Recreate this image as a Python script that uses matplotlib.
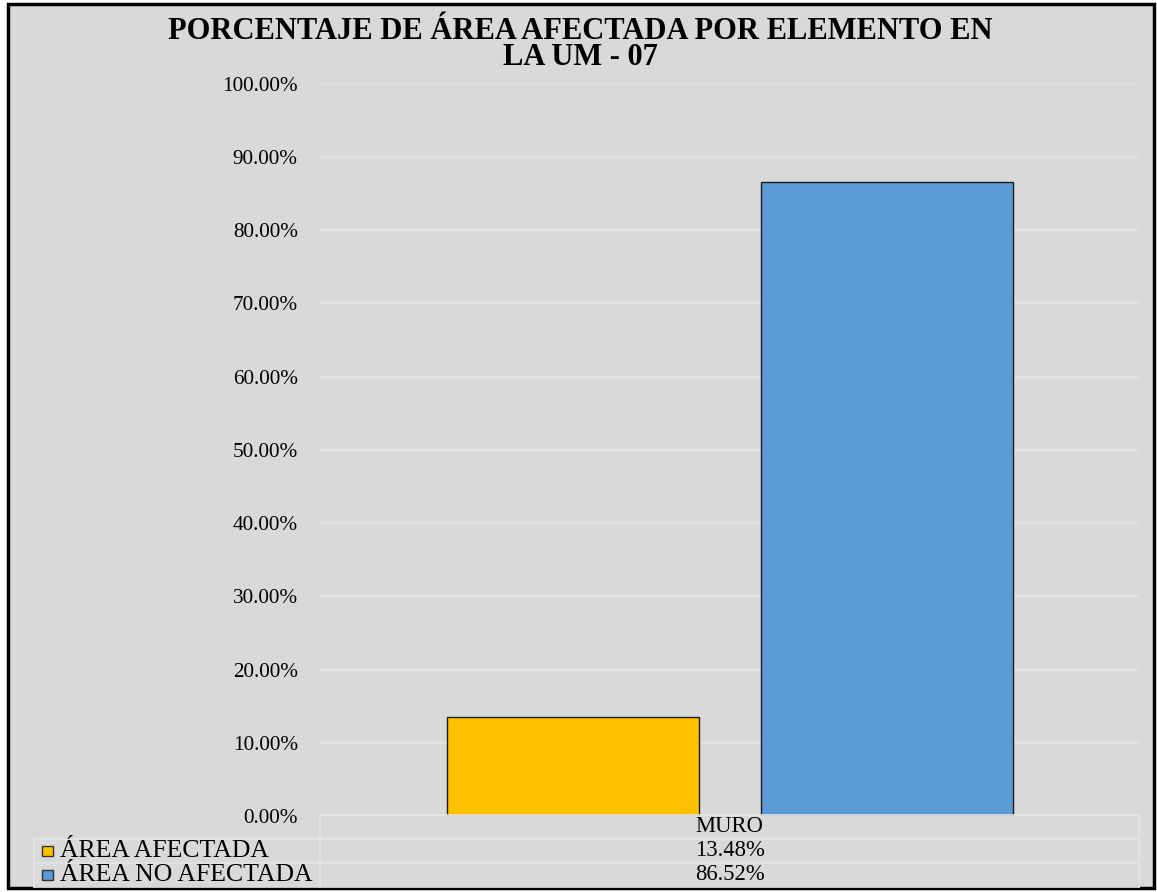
import matplotlib
matplotlib.use('Agg')
import matplotlib.pyplot as plt
from matplotlib.patches import Rectangle
from matplotlib.lines import Line2D
from matplotlib.ticker import FuncFormatter

# data
category = "MURO"
series_names = ["ÁREA AFECTADA", "ÁREA NO AFECTADA"]
series_values = [0.1348, 0.8652]
series_colors = ["#FFC000", "#5B9BD5"]
title = "PORCENTAJE DE ÁREA AFECTADA POR ELEMENTO EN\nLA UM - 07"

plt.rcParams['font.family'] = ['Liberation Serif', 'DejaVu Serif']

W, H = 1157, 892
fig = plt.figure(figsize=(W / 100, H / 100), dpi=100)
fig.patch.set_facecolor("white")

BG = "#D9D9D9"
GRID = "#E4E4E4"

# chart area with black border (behind the axes)
fig.patches.append(Rectangle((8 / W, 4 / H), (1154 - 8) / W, (888 - 4) / H,
                             transform=fig.transFigure, facecolor=BG,
                             edgecolor="black", linewidth=2.5, zorder=-5))

def fx(px):
    return px / W

def fy(py):
    return 1 - py / H

left, right, top, bottom = 320, 1139, 83.6, 816
ax = fig.add_axes([fx(left), fy(bottom), fx(right - left), fy(top) - fy(bottom)])
ax.patch.set_alpha(0)

width = 252 / 819
offset = (252 + 62) / 2 / 819
for i, (name, val, col) in enumerate(zip(series_names, series_values, series_colors)):
    x = (i - 0.5) * 2 * offset
    ax.bar(x, val, width=width, color=col, edgecolor="#1a1a1a", linewidth=1.0,
           label=name, zorder=3)

ax.set_xlim(-0.5, 0.5)
ax.set_ylim(0, 1)
ax.set_yticks([i / 10 for i in range(11)])
ax.yaxis.set_major_formatter(FuncFormatter(lambda v, p: f"{v * 100:.2f}%"))
ax.tick_params(axis='y', length=0, pad=16, labelsize=15.3)
ax.set_xticks([])
ax.grid(axis='y', color=GRID, linewidth=1.2, zorder=0)
for s in ax.spines.values():
    s.set_visible(False)

# title
fig.text(fx(580), fy(44.5), title, ha="center", va="center", fontsize=22,
         fontweight="bold", linespacing=0.82)

# data table below the plot
rows_y = [815, 839, 863, 887]
tab_left = 34
lc = GRID
lw = 1.2
fig.add_artist(Line2D([fx(left), fx(right)], [fy(rows_y[0])] * 2, color=lc, lw=lw))
for yy in rows_y[1:]:
    fig.add_artist(Line2D([fx(tab_left), fx(right)], [fy(yy)] * 2, color=lc, lw=lw))
fig.add_artist(Line2D([fx(left)] * 2, [fy(rows_y[0]), fy(rows_y[-1])], color=lc, lw=lw))
fig.add_artist(Line2D([fx(right)] * 2, [fy(rows_y[0]), fy(rows_y[-1])], color=lc, lw=lw))
fig.add_artist(Line2D([fx(tab_left)] * 2, [fy(rows_y[1]), fy(rows_y[-1])], color=lc, lw=lw))

cx = (left + right) / 2
fig.text(fx(cx), fy((rows_y[0] + rows_y[1]) / 2), category, ha="center",
         va="center", fontsize=16.3)
for i, (name, val, col) in enumerate(zip(series_names, series_values, series_colors)):
    yc = (rows_y[i + 1] + rows_y[i + 2]) / 2
    fig.patches.append(Rectangle((fx(42), fy(yc + 5)), 11 / W, 10 / H,
                                 transform=fig.transFigure, facecolor=col,
                                 edgecolor="#333333", linewidth=1.0))
    fig.text(fx(60), fy(yc), name, ha="left", va="center", fontsize=18.5)
    fig.text(fx(cx), fy(yc), f"{val * 100:.2f}%", ha="center", va="center",
             fontsize=16.3)

fig.savefig("out.png", dpi=100, facecolor=fig.get_facecolor())
